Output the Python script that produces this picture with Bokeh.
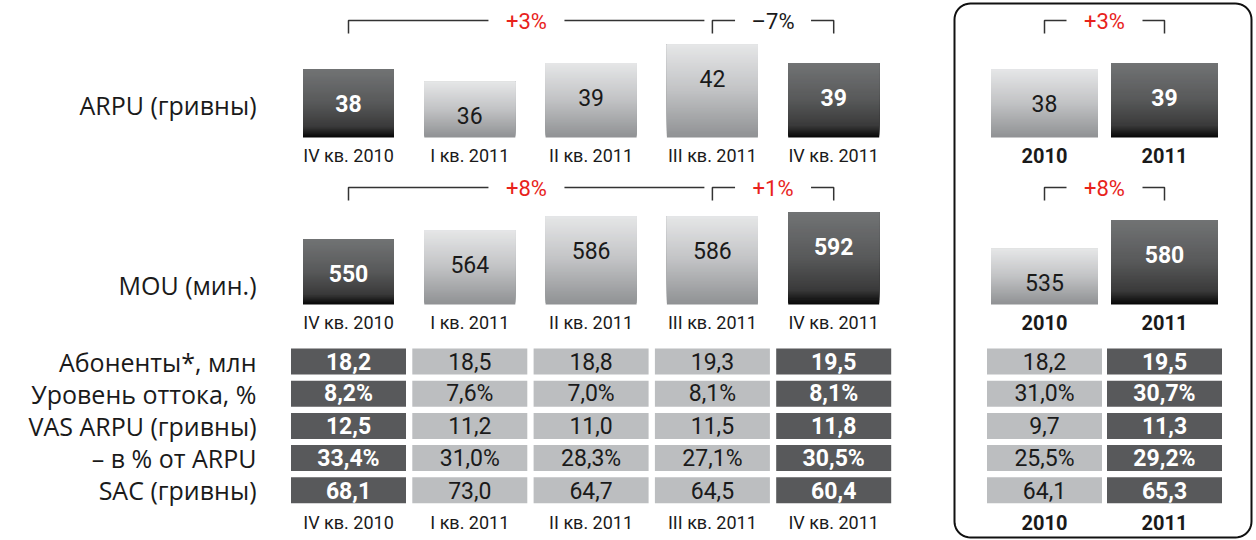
import numpy as np
from bokeh.plotting import figure
from bokeh.models import Range1d, ColumnDataSource
from bokeh.core.properties import value
from bokeh.embed import file_html
from bokeh.resources import INLINE

# ---------------- data ----------------
quarters = ["IV кв. 2010", "I кв. 2011", "II кв. 2011", "III кв. 2011", "IV кв. 2011"]
years = ["2010", "2011"]
quarter_dark = [True, False, False, False, True]
year_dark = [False, True]

arpu_q = [38, 36, 39, 42, 39]
arpu_y = [38, 39]
mou_q = [550, 564, 586, 586, 592]
mou_y = [535, 580]

arpu_changes = ["+3%", "–7%"]
arpu_change_colors = ["#e8231c", "#1a1a1a"]
arpu_year_change = "+3%"
mou_changes = ["+8%", "+1%"]
mou_change_colors = ["#e8231c", "#e8231c"]
mou_year_change = "+8%"

row_labels = ["Абоненты*, млн", "Уровень оттока, %", "VAS ARPU (гривны)",
              "– в % от ARPU", "SAC (гривны)"]
row_is_pct = [False, True, False, True, False]
subs_q = [18.2, 18.5, 18.8, 19.3, 19.5]
churn_q = [8.2, 7.6, 7.0, 8.1, 8.1]
vas_q = [12.5, 11.2, 11.0, 11.5, 11.8]
vas_share_q = [33.4, 31.0, 28.3, 27.1, 30.5]
sac_q = [68.1, 73.0, 64.7, 64.5, 60.4]
subs_y = [18.2, 19.5]
churn_y = [31.0, 30.7]
vas_y = [9.7, 11.3]
vas_share_y = [25.5, 29.2]
sac_y = [64.1, 65.3]

# ---------------- layout ----------------
W, H = 1256, 540
LABEL_FONT = value("Open Sans")
NUM_FONT = value("Roboto")
RED = "#e8231c"
INK = "#1a1a1a"

col_x = [348 + 121.3 * i for i in range(len(quarters))]
year_x = [1044, 1164]

ARPU_BASE, ARPU_PX, ARPU_BOT = 27, 6.2, 137      # value at bar bottom, px/unit, page y of bar bottom
MOU_BASE, MOU_PX, MOU_BOT = 448, 0.64, 304


def vrange(base, px, bot):
    return Range1d(start=base - (H - bot) / px, end=base + bot / px)


p = figure(width=W, height=H, x_range=Range1d(0, W), y_range=Range1d(H, 0),
           output_backend="svg", toolbar_location=None, min_border=0,
           x_axis_type=None, y_axis_type=None)
p.grid.visible = False
p.outline_line_color = None
p.background_fill_color = "white"
p.extra_y_ranges = {"arpu": vrange(ARPU_BASE, ARPU_PX, ARPU_BOT),
                    "mou": vrange(MOU_BASE, MOU_PX, MOU_BOT)}


def lerp_stops(stops, t):
    for (t0, c0), (t1, c1) in zip(stops[:-1], stops[1:]):
        if t <= t1:
            f = 0 if t1 == t0 else (t - t0) / (t1 - t0)
            c = [round(a + (b - a) * f) for a, b in zip(c0, c1)]
            return "#%02x%02x%02x" % tuple(c)
    return "#%02x%02x%02x" % tuple(stops[-1][1])


DARK_STOPS = [(0.0, (0x72, 0x74, 0x75)), (0.5, (0x58, 0x59, 0x5a)),
              (0.85, (0x3a, 0x3a, 0x3a)), (1.0, (0x08, 0x08, 0x08))]
LIGHT_STOPS = [(0.0, (0xe6, 0xe7, 0xe8)), (0.5, (0xc2, 0xc3, 0xc5)),
               (1.0, (0x90, 0x92, 0x94))]


def grad_bars(xs, vals, darks, base, width, rng, n=60):
    L, R, T, B, C = [], [], [], [], []
    for x, v, d in zip(xs, vals, darks):
        stops = DARK_STOPS if d else LIGHT_STOPS
        for k in range(n):
            frac = k / n
            L.append(x - width / 2)
            R.append(x + width / 2)
            T.append(v)
            B.append(base + (v - base) * frac)
            C.append(lerp_stops(stops, 1 - frac))   # t measured from top
    src = ColumnDataSource(dict(left=L, right=R, top=T, bottom=B, color=C))
    p.quad(left="left", right="right", top="top", bottom="bottom", fill_color="color",
           line_color=None, source=src, y_range_name=rng)


def bar_values(xs, vals, darks, rng):
    for x, v, d in zip(xs, vals, darks):
        p.text(x=[x], y=[v], text=[str(v)], y_range_name=rng, y_offset=34,
               text_align="center", text_baseline="middle", text_font=NUM_FONT,
               text_font_size="23px", text_color="white" if d else INK,
               text_font_style="bold" if d else "normal")


def cat_labels(xs, labels, y, bold=False):
    p.text(x=xs, y=[y] * len(xs), text=labels, text_align="center", text_baseline="middle",
           text_font=NUM_FONT, text_font_size="20px" if bold else "18px",
           text_color=INK, text_font_style="bold" if bold else "normal")


def bracket(xa, xb, y, txt, color, close_right=True):
    mid = (xa + xb) / 2
    xs = [[xa, xa, mid - 38], [mid + 38, xb] + ([xb] if close_right else [])]
    ys = [[y + 13, y, y], [y, y] + ([y + 13] if close_right else [])]
    p.multi_line(xs=xs, ys=ys, line_color="#333333", line_width=1.5)
    p.text(x=[mid], y=[y + 1], text=[txt], text_align="center", text_baseline="middle",
           text_font=NUM_FONT, text_font_size="22px", text_color=color)


# ---------------- ARPU ----------------
grad_bars(col_x, arpu_q, quarter_dark, ARPU_BASE, 91, "arpu")
grad_bars(year_x, arpu_y, year_dark, ARPU_BASE, 107, "arpu")
bar_values(col_x, arpu_q, quarter_dark, "arpu")
bar_values(year_x, arpu_y, year_dark, "arpu")
cat_labels(col_x, quarters, 155)
cat_labels(year_x, years, 155, bold=True)
bracket(col_x[0], col_x[3] - 8, 20, arpu_changes[0], arpu_change_colors[0], close_right=False)
bracket(col_x[3], col_x[4], 20, arpu_changes[1], arpu_change_colors[1])
bracket(year_x[0], year_x[1], 20, arpu_year_change, RED)

# ---------------- MOU ----------------
grad_bars(col_x, mou_q, quarter_dark, MOU_BASE, 91, "mou")
grad_bars(year_x, mou_y, year_dark, MOU_BASE, 107, "mou")
bar_values(col_x, mou_q, quarter_dark, "mou")
bar_values(year_x, mou_y, year_dark, "mou")
cat_labels(col_x, quarters, 322)
cat_labels(year_x, years, 322, bold=True)
bracket(col_x[0], col_x[3] - 8, 187, mou_changes[0], mou_change_colors[0], close_right=False)
bracket(col_x[3], col_x[4], 187, mou_changes[1], mou_change_colors[1])
bracket(year_x[0], year_x[1], 187, mou_year_change, RED)

# row headers for the bar panels
p.text(x=[256, 256], y=[104, 284], text=["ARPU (гривны)", "MOU (мин.)"], text_align="right",
       text_baseline="middle", text_font=LABEL_FONT, text_font_size="25px", text_color=INK)

# ---------------- table ----------------
rows_q = [subs_q, churn_q, vas_q, vas_share_q, sac_q]
rows_y = [subs_y, churn_y, vas_y, vas_share_y, sac_y]
row_y = [361 + 32.2 * i for i in range(len(row_labels))]


def fmt(v, pct):
    s = f"{v:.1f}".replace(".", ",")
    return s + "%" if pct else s


def table(xs, rows, darks):
    cx, cy, col, txt, tcol, tsty = [], [], [], [], [], []
    for r, vals in enumerate(rows):
        for x, v, d in zip(xs, vals, darks):
            cx.append(x)
            cy.append(row_y[r])
            col.append("#58595b" if d else "#bcbec0")
            txt.append(fmt(v, row_is_pct[r]))
            tcol.append("white" if d else INK)
            tsty.append("bold" if d else "normal")
    src = ColumnDataSource(dict(x=cx, y=cy, c=col, t=txt, tc=tcol, ts=tsty))
    p.rect(x="x", y="y", width=115, height=26, fill_color="c", line_color=None, source=src)
    p.text(x="x", y="y", text="t", text_color="tc", text_font_style="ts", source=src,
           text_align="center", text_baseline="middle", text_font=NUM_FONT, text_font_size="23px")


table(col_x, rows_q, quarter_dark)
table(year_x, rows_y, year_dark)
p.text(x=[256] * len(row_labels), y=row_y, text=row_labels, text_align="right",
       text_baseline="middle", text_font=LABEL_FONT, text_font_size="25px", text_color=INK)
cat_labels(col_x, quarters, 522)
cat_labels(year_x, years, 522, bold=True)

# ---------------- framed annual box ----------------
bl, br, bt, bb, rad = 954, 1251, 3, 537, 16
th = np.linspace(0, np.pi / 2, 12)
bx = np.concatenate([br - rad + rad * np.sin(th), br - rad + rad * np.cos(th),
                     bl + rad - rad * np.sin(th), bl + rad - rad * np.cos(th), [br - rad]])
by = np.concatenate([bt + rad - rad * np.cos(th), bb - rad + rad * np.sin(th),
                     bb - rad + rad * np.cos(th), bt + rad - rad * np.sin(th), [bt]])
p.line(bx, by, line_color="#111111", line_width=2)

open("out.html", "w").write(file_html(p, INLINE))
